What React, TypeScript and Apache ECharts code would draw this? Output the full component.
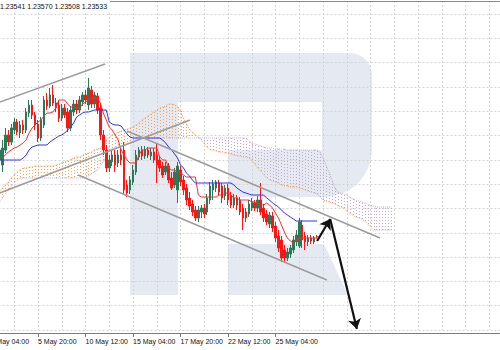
import React, { useEffect, useRef } from 'react';
import * as echarts from 'echarts';

// ---------- data ----------
const FIRST_BAR = 3; // index of the first drawn H4 bar
const LAST_BAR = 110; // index of the last finished bar
const BAR_COUNT = 177; // bars incl. the empty space on the right

const HEADER = '1.23541 1.23570 1.23508 1.23533';

const TICK_LABELS = [
  '3 May 04:00',
  '5 May 20:00',
  '10 May 12:00',
  '15 May 04:00',
  '17 May 20:00',
  '22 May 12:00',
  '25 May 04:00',
];

// [open, close, low, high] for bars 3 .. 110
const CANDLES: number[][] = [
  [1.2507, 1.2527, 1.2487, 1.2537], [1.2497, 1.2531, 1.2483, 1.2547], [1.2527, 1.2557, 1.2521, 1.2571],
  [1.2557, 1.2543, 1.2535, 1.2567], [1.2543, 1.2571, 1.2537, 1.2579], [1.2567, 1.2583, 1.2559, 1.2591],
  [1.2583, 1.2563, 1.2557, 1.2589], [1.2561, 1.2577, 1.2551, 1.2585], [1.2577, 1.2567, 1.2559, 1.2587],
  [1.2567, 1.2603, 1.2561, 1.2611], [1.2601, 1.2617, 1.2593, 1.2627], [1.2617, 1.2597, 1.2589, 1.2627],
  [1.2597, 1.2577, 1.2567, 1.2603], [1.2579, 1.2551, 1.2543, 1.2587], [1.2551, 1.2587, 1.2545, 1.2593],
  [1.2577, 1.2627, 1.2571, 1.2635], [1.2627, 1.2615, 1.2607, 1.2641], [1.2615, 1.2637, 1.2611, 1.2651],
  [1.2637, 1.2621, 1.2615, 1.2657], [1.2621, 1.2611, 1.2603, 1.2631], [1.2617, 1.2591, 1.2583, 1.2627],
  [1.2591, 1.2611, 1.2585, 1.2619], [1.2611, 1.2597, 1.2591, 1.2619], [1.2603, 1.2571, 1.2563, 1.2611],
  [1.2571, 1.2607, 1.2565, 1.2615], [1.2603, 1.2619, 1.2595, 1.2627], [1.2619, 1.2607, 1.2599, 1.2627],
  [1.2607, 1.2627, 1.2601, 1.2635], [1.2623, 1.2637, 1.2615, 1.2643], [1.2637, 1.2627, 1.2619, 1.2647],
  [1.2617, 1.2651, 1.2607, 1.2671], [1.2647, 1.2619, 1.2611, 1.2655], [1.2619, 1.2637, 1.2611, 1.2643],
  [1.2635, 1.2607, 1.2599, 1.2641], [1.2611, 1.2557, 1.2547, 1.2619], [1.2557, 1.2527, 1.2517, 1.2567],
  [1.2527, 1.2491, 1.2483, 1.2537], [1.2491, 1.2507, 1.2483, 1.2517], [1.2503, 1.2517, 1.2495, 1.2527],
  [1.2517, 1.2497, 1.2483, 1.2527], [1.2501, 1.2517, 1.2493, 1.2527], [1.2517, 1.2507, 1.2497, 1.2531],
  [1.2527, 1.2447, 1.2437, 1.2543], [1.2457, 1.2441, 1.2433, 1.2467], [1.2447, 1.2467, 1.2439, 1.2475],
  [1.2463, 1.2487, 1.2457, 1.2497], [1.2483, 1.2517, 1.2477, 1.2527], [1.2513, 1.2527, 1.2507, 1.2533],
  [1.2527, 1.2515, 1.2507, 1.2535], [1.2515, 1.2527, 1.2509, 1.2535], [1.2527, 1.2517, 1.2511, 1.2533],
  [1.2515, 1.2523, 1.2507, 1.2531], [1.2523, 1.2507, 1.2501, 1.2531], [1.2517, 1.2497, 1.2461, 1.2541],
  [1.2507, 1.2491, 1.2483, 1.2515], [1.2495, 1.2477, 1.2471, 1.2503], [1.2483, 1.2495, 1.2477, 1.2503],
  [1.2495, 1.2467, 1.2461, 1.2501], [1.2471, 1.2451, 1.2447, 1.2483], [1.2457, 1.2483, 1.2451, 1.2491],
  [1.2447, 1.2495, 1.2421, 1.2503], [1.2487, 1.2463, 1.2455, 1.2495], [1.2467, 1.2447, 1.2437, 1.2475],
  [1.2451, 1.2427, 1.2417, 1.2459], [1.2431, 1.2415, 1.2407, 1.2443], [1.2419, 1.2403, 1.2395, 1.2427],
  [1.2407, 1.2391, 1.2385, 1.2415], [1.2391, 1.2407, 1.2383, 1.2415], [1.2403, 1.2411, 1.2391, 1.2417],
  [1.2411, 1.2399, 1.2391, 1.2419], [1.2403, 1.2431, 1.2397, 1.2439], [1.2427, 1.2455, 1.2419, 1.2463],
  [1.2447, 1.2459, 1.2427, 1.2467], [1.2451, 1.2463, 1.2443, 1.2467], [1.2461, 1.2443, 1.2437, 1.2467],
  [1.2455, 1.2431, 1.2421, 1.2461], [1.2435, 1.2451, 1.2427, 1.2457], [1.2451, 1.2427, 1.2417, 1.2459],
  [1.2435, 1.2417, 1.2411, 1.2443], [1.2417, 1.2431, 1.2411, 1.2439], [1.2431, 1.2417, 1.2407, 1.2437],
  [1.2427, 1.2403, 1.2397, 1.2433], [1.2411, 1.2391, 1.2367, 1.2419], [1.2403, 1.2391, 1.2383, 1.2411],
  [1.2399, 1.2419, 1.2393, 1.2427], [1.2411, 1.2423, 1.2405, 1.2431], [1.2421, 1.2411, 1.2405, 1.2427],
  [1.2411, 1.2427, 1.2403, 1.2435], [1.2427, 1.2403, 1.2397, 1.2461], [1.2411, 1.2391, 1.2383, 1.2419],
  [1.2399, 1.2383, 1.2377, 1.2407], [1.2379, 1.2397, 1.2371, 1.2403], [1.2395, 1.2371, 1.2363, 1.2403],
  [1.2375, 1.2351, 1.2343, 1.2383], [1.2355, 1.2331, 1.2323, 1.2367], [1.2347, 1.2311, 1.2303, 1.2355],
  [1.2327, 1.2311, 1.2303, 1.2337], [1.2311, 1.2323, 1.2305, 1.2331], [1.2319, 1.2331, 1.2311, 1.2337],
  [1.2327, 1.2347, 1.2321, 1.2355], [1.2343, 1.2357, 1.2335, 1.2367], [1.2335, 1.2383, 1.2331, 1.2391],
  [1.2377, 1.2347, 1.2331, 1.2387], [1.2355, 1.2343, 1.2327, 1.2363], [1.2343, 1.2351, 1.2335, 1.2357],
  [1.2351, 1.2345, 1.2339, 1.2357], [1.2343, 1.2351, 1.2339, 1.2355], [1.23541, 1.23533, 1.23508, 1.2357],
];

// Tenkan-sen, bars 3 .. 110
const TENKAN = [
  1.2507, 1.2511, 1.2517, 1.2523, 1.2527, 1.2531, 1.2533, 1.2537, 1.2541, 1.2547,
  1.2561, 1.2571, 1.2577, 1.2583, 1.2587, 1.2595, 1.2601, 1.2601, 1.2603, 1.2611,
  1.2627, 1.2627, 1.2627, 1.2619, 1.2613, 1.2613, 1.2611, 1.2611, 1.2619, 1.2623,
  1.2627, 1.2631, 1.2631, 1.2631, 1.2621, 1.2601, 1.2587, 1.2573, 1.2567, 1.2557,
  1.2547, 1.2527, 1.2517, 1.2507, 1.2501, 1.2501, 1.2501, 1.2517, 1.2527, 1.2527,
  1.2531, 1.2531, 1.2531, 1.2531, 1.2513, 1.2507, 1.2507, 1.2491, 1.2487, 1.2487,
  1.2483, 1.2481, 1.2477, 1.2473, 1.2473, 1.2473, 1.2473, 1.2437, 1.2433, 1.2433,
  1.2433, 1.2433, 1.2433, 1.2433, 1.2437, 1.2437, 1.2441, 1.2441, 1.2437, 1.2431,
  1.2431, 1.2427, 1.2427, 1.2427, 1.2427, 1.2423, 1.2423, 1.2421, 1.2417, 1.2417,
  1.2421, 1.2417, 1.2411, 1.2401, 1.2391, 1.2377, 1.2363, 1.2351, 1.2345, 1.2341,
  1.2347, 1.2351, 1.2351, 1.2351, 1.2351, 1.2351, 1.2351, 1.2351,
];

// Kijun-sen, bars 3 .. 110
const KIJUN = [
  1.2507, 1.2507, 1.2507, 1.2507, 1.2507, 1.2507, 1.2507, 1.2507, 1.2511, 1.2517,
  1.2527, 1.2533, 1.2535, 1.2537, 1.2537, 1.2537, 1.2537, 1.2543, 1.2547, 1.2551,
  1.2555, 1.2557, 1.2561, 1.2567, 1.2573, 1.2581, 1.2593, 1.2597, 1.2601, 1.2603,
  1.2603, 1.2605, 1.2607, 1.2607, 1.2607, 1.2607, 1.2607, 1.2583, 1.2579, 1.2577,
  1.2577, 1.2575, 1.2567, 1.2559, 1.2553, 1.2551, 1.2551, 1.2551, 1.2551, 1.2551,
  1.2551, 1.2551, 1.2551, 1.2551, 1.2551, 1.2547, 1.2541, 1.2533, 1.2527, 1.2519,
  1.2511, 1.2497, 1.2491, 1.2481, 1.2475, 1.2467, 1.2461, 1.2461, 1.2461, 1.2461,
  1.2461, 1.2461, 1.2461, 1.2461, 1.2461, 1.2461, 1.2461, 1.2461, 1.2461, 1.2457,
  1.2451, 1.2447, 1.2443, 1.2441, 1.2439, 1.2437, 1.2437, 1.2437, 1.2437, 1.2437,
  1.2431, 1.2427, 1.2421, 1.2417, 1.2413, 1.2407, 1.2401, 1.2397, 1.2393, 1.2389,
  1.2385, 1.2385, 1.2385, 1.2385, 1.2385, 1.2385, 1.2385, 1.2385,
];

// Senkou span A, bars 3 .. 135
const SPAN_A = [
  1.2445, 1.2451, 1.2457, 1.2463, 1.2471, 1.2477, 1.2483, 1.2487, 1.2491, 1.2491,
  1.2493, 1.2493, 1.2495, 1.2495, 1.2495, 1.2495, 1.2495, 1.2495, 1.2495, 1.2497,
  1.2499, 1.2501, 1.2503, 1.2505, 1.2509, 1.2511, 1.2513, 1.2513, 1.2517, 1.2519,
  1.2521, 1.2523, 1.2527, 1.2529, 1.2531, 1.2539, 1.2547, 1.2553, 1.2557, 1.2559,
  1.2563, 1.2565, 1.2567, 1.2569, 1.2571, 1.2573, 1.2577, 1.2581, 1.2587, 1.2591,
  1.2595, 1.2599, 1.2603, 1.2607, 1.2611, 1.2613, 1.2615, 1.2619, 1.2619, 1.2617,
  1.2613, 1.2605, 1.2591, 1.2579, 1.2569, 1.2563, 1.2557, 1.2553, 1.2547, 1.2539,
  1.2533, 1.2527, 1.2527, 1.2525, 1.2523, 1.2523, 1.2521, 1.2521, 1.2519, 1.2517,
  1.2515, 1.2515, 1.2513, 1.2513, 1.2511, 1.2507, 1.2499, 1.2491, 1.2485, 1.2477,
  1.2471, 1.2467, 1.2465, 1.2463, 1.2461, 1.2457, 1.2455, 1.2455, 1.2453, 1.2453,
  1.2453, 1.2451, 1.2449, 1.2447, 1.2445, 1.2443, 1.2441, 1.2439, 1.2433, 1.2427,
  1.2425, 1.2423, 1.2421, 1.2419, 1.2415, 1.2413, 1.2411, 1.2405, 1.2401, 1.2397,
  1.2393, 1.2391, 1.2389, 1.2385, 1.2379, 1.2373, 1.2367, 1.2367, 1.2367, 1.2367,
  1.2367, 1.2367, 1.2367,
];

// Senkou span B, bars 3 .. 135
const SPAN_B = [
  1.2423, 1.2431, 1.2439, 1.2447, 1.2455, 1.2461, 1.2467, 1.2471, 1.2471, 1.2471,
  1.2471, 1.2471, 1.2471, 1.2471, 1.2471, 1.2471, 1.2471, 1.2471, 1.2471, 1.2471,
  1.2471, 1.2471, 1.2471, 1.2471, 1.2471, 1.2471, 1.2471, 1.2471, 1.2471, 1.2473,
  1.2475, 1.2479, 1.2483, 1.2487, 1.2495, 1.2503, 1.2515, 1.2527, 1.2531, 1.2533,
  1.2533, 1.2535, 1.2537, 1.2539, 1.2541, 1.2541, 1.2545, 1.2547, 1.2551, 1.2551,
  1.2551, 1.2551, 1.2551, 1.2551, 1.2551, 1.2551, 1.2551, 1.2551, 1.2551, 1.2551,
  1.2551, 1.2551, 1.2551, 1.2551, 1.2551, 1.2551, 1.2551, 1.2551, 1.2551, 1.2551,
  1.2551, 1.2551, 1.2551, 1.2551, 1.2551, 1.2551, 1.2551, 1.2551, 1.2551, 1.2551,
  1.2551, 1.2551, 1.2551, 1.2551, 1.2545, 1.2541, 1.2539, 1.2537, 1.2535, 1.2533,
  1.2531, 1.2531, 1.2531, 1.2529, 1.2529, 1.2529, 1.2529, 1.2527, 1.2527, 1.2527,
  1.2527, 1.2527, 1.2527, 1.2527, 1.2527, 1.2527, 1.2527, 1.2527, 1.2523, 1.2511,
  1.2497, 1.2483, 1.2467, 1.2451, 1.2443, 1.2441, 1.2439, 1.2437, 1.2433, 1.2429,
  1.2427, 1.2425, 1.2423, 1.2421, 1.2419, 1.2417, 1.2415, 1.2413, 1.2413, 1.2413,
  1.2413, 1.2413, 1.2413,
];

// hand-drawn channel lines: [[bar, price], [bar, price]]
const TREND_LINES = [
  [[0, 1.2616], [38.6, 1.2699]],
  [[0, 1.2434], [67.2, 1.2587]],
  [[46.0, 1.2565], [131.2, 1.2351]],
  [[29.5, 1.2477], [113.3, 1.2267]],
];

// forecast arrows
const ARROWS = [
  [[110.0, 1.2345], [114.4, 1.2389]],
  [[114.4, 1.2389], [123.4, 1.2169]],
];

// ---------- helpers ----------
const MONTHS = ['Jan', 'Feb', 'Mar', 'Apr', 'May', 'Jun', 'Jul', 'Aug', 'Sep', 'Oct', 'Nov', 'Dec'];
function buildCategories(): string[] {
  const out: string[] = [];
  let t = Date.UTC(2017, 4, 3, 4);
  while (out.length < BAR_COUNT) {
    const d = new Date(t);
    const wd = d.getUTCDay();
    if (wd >= 1 && wd <= 5) {
      const hh = String(d.getUTCHours()).padStart(2, '0');
      out.push(`${d.getUTCDate()} ${MONTHS[d.getUTCMonth()]} ${hh}:00`);
    }
    t += 4 * 3600 * 1000;
  }
  return out;
}
const CATEGORIES = buildCategories();
const showTick = (i: number) => i % 16 === 0 && i / 16 < TICK_LABELS.length && i <= LAST_BAR;

const SANDY = '#f4a460';
const THISTLE = '#c4a9cf';
const BULL = '#2b7a57';
const BEAR = '#ff1414';
const GRID = '#d4d4d4';
const WM = '#e5eaf2';

export default function App() {
  const ref = useRef<HTMLDivElement>(null);
  useEffect(() => {
    if (!ref.current) return;
    const chart = echarts.init(ref.current, undefined, { renderer: 'svg' });
    const bar = (k: number) => k + FIRST_BAR;
    const option: any = {
      animation: false,
      backgroundColor: '#ffffff',
      grid: { left: -9.5, right: -13.05, top: 1, bottom: 20, containLabel: false, outerBoundsMode: 'none' },
      xAxis: [
        {
          type: 'category',
          data: CATEGORIES,
          boundaryGap: false,
          offset: 3,
          axisLine: { onZero: false, lineStyle: { color: '#7c7c7c', width: 1 } },
          axisTick: { interval: (i: number) => showTick(i), length: 4, lineStyle: { color: '#7c7c7c' } },
          axisLabel: {
            interval: (i: number) => showTick(i),
            formatter: (_v: string, i: number) => (showTick(i) ? TICK_LABELS[i / 16] : ''),
            align: 'left',
            margin: 5,
            fontSize: 7,
            fontFamily: 'Liberation Sans',
            color: '#111',
            hideOverlap: false,
          },
          splitLine: { show: false },
        },
        {
          type: 'value',
          position: 'top',
          min: 0,
          max: BAR_COUNT - 1,
          interval: 8,
          axisLine: { show: true, onZero: false, lineStyle: { color: '#8a8a8a', width: 1 } },
          axisTick: { show: false },
          axisLabel: { show: false },
          splitLine: { show: true, lineStyle: { color: GRID, type: [2, 2], width: 1 } },
        },
      ],
      yAxis: [
        { type: 'value', min: 1.2167, max: 1.2825, show: false },
        {
          type: 'value',
          min: 0,
          max: 13.539,
          interval: 1,
          axisLine: { show: false, onZero: false },
          axisTick: { show: false },
          axisLabel: { show: false },
          splitLine: { show: true, showMaxLine: false, lineStyle: { color: GRID, type: [2, 2], width: 1 } },
        },
      ],
      graphic: [
        { type: 'rect', z: -5, silent: true, shape: { x: 130, y: 53, width: 242, height: 144, r: [0, 22, 48, 0] }, style: { fill: WM } },
        { type: 'rect', z: -5, silent: true, shape: { x: 130, y: 53, width: 48, height: 242 }, style: { fill: WM } },
        { type: 'rect', z: -5, silent: true, shape: { x: 178, y: 102, width: 144, height: 48 }, style: { fill: '#ffffff' } },
        { type: 'rect', z: -5, silent: true, shape: { x: 178, y: 150, width: 50, height: 47 }, style: { fill: '#ffffff' } },
        { type: 'polygon', z: -5, silent: true, shape: { points: [[228, 244], [324, 244], [348, 295], [228, 295]] }, style: { fill: WM } },
        {
          type: 'text',
          z: 100,
          x: 0,
          y: 0,
          silent: true,
          style: {
            text: HEADER,
            fontSize: 7,
            fontFamily: 'Liberation Sans',
            fill: '#111',
            backgroundColor: '#ffffff',
            padding: [3, 3, 2, 0],
          },
        },
      ],
      series: [
        {
          name: 'Kumo',
          type: 'custom',
          xAxisIndex: 0,
          yAxisIndex: 0,
          silent: true,
          z: 1,
          data: SPAN_A.map((a, k) => [bar(k), a, SPAN_B[k]]),
          encode: { x: 0, y: [1, 2] },
          renderItem: (_p: any, api: any) => {
            const i = api.value(0);
            const a = api.value(1);
            const b = api.value(2);
            const pa = api.coord([i, a]);
            const pb = api.coord([i, b]);
            const x = Math.round(pa[0]) + 0.5;
            return {
              type: 'line',
              shape: { x1: x, y1: pa[1], x2: x, y2: pb[1] },
              style: { stroke: a >= b ? SANDY : THISTLE, lineWidth: 1, lineDash: [1, 2] },
            };
          },
        },
        {
          name: 'Senkou A',
          type: 'line',
          silent: true,
          z: 2,
          symbol: 'none',
          data: SPAN_A.map((v, k) => [bar(k), v]),
          lineStyle: { color: SANDY, width: 1, type: [1, 1] },
        },
        {
          name: 'Senkou B',
          type: 'line',
          silent: true,
          z: 2,
          symbol: 'none',
          data: SPAN_B.map((v, k) => [bar(k), v]),
          lineStyle: { color: THISTLE, width: 1, type: [1, 1] },
        },
        {
          name: 'Price',
          type: 'candlestick',
          silent: true,
          z: 3,
          barWidth: 2,
          dimensions: ['bar', 'open', 'close', 'lowest', 'highest'],
          encode: { x: 'bar', y: ['open', 'close', 'lowest', 'highest'] },
          data: CANDLES.map((c, k) => [bar(k), c[0], c[1], c[2], c[3]]),
          itemStyle: { color: BULL, color0: BEAR, borderColor: BULL, borderColor0: BEAR, borderWidth: 1 },
        },
        {
          name: 'Tenkan-sen',
          type: 'line',
          silent: true,
          z: 4,
          symbol: 'none',
          data: TENKAN.map((v, k) => [bar(k), v]),
          lineStyle: { color: '#f23030', width: 1 },
        },
        {
          name: 'Kijun-sen',
          type: 'line',
          silent: true,
          z: 4,
          symbol: 'none',
          data: KIJUN.map((v, k) => [bar(k), v]),
          lineStyle: { color: '#2f2ff5', width: 1 },
        },
        {
          name: 'Channel',
          type: 'lines',
          coordinateSystem: 'cartesian2d',
          xAxisIndex: 1,
          yAxisIndex: 0,
          silent: true,
          z: 5,
          symbol: 'none',
          lineStyle: { color: '#9c9c9c', width: 1.5, opacity: 1 },
          data: TREND_LINES.map((c) => ({ coords: c })),
        },
        {
          name: 'Forecast',
          type: 'lines',
          coordinateSystem: 'cartesian2d',
          xAxisIndex: 1,
          yAxisIndex: 0,
          silent: true,
          z: 6,
          symbol: ['none', 'arrow'],
          symbolSize: 10,
          lineStyle: { color: '#111111', width: 2.2, opacity: 1 },
          data: ARROWS.map((c) => ({ coords: c })),
        },
      ],
    };
    chart.setOption(option);
    return () => chart.dispose();
  }, []);
  return (
    <div
      ref={ref}
      style={{ position: 'absolute', left: 0, top: 0, width: 500, height: 350, background: '#fff' }}
    />
  );
}
